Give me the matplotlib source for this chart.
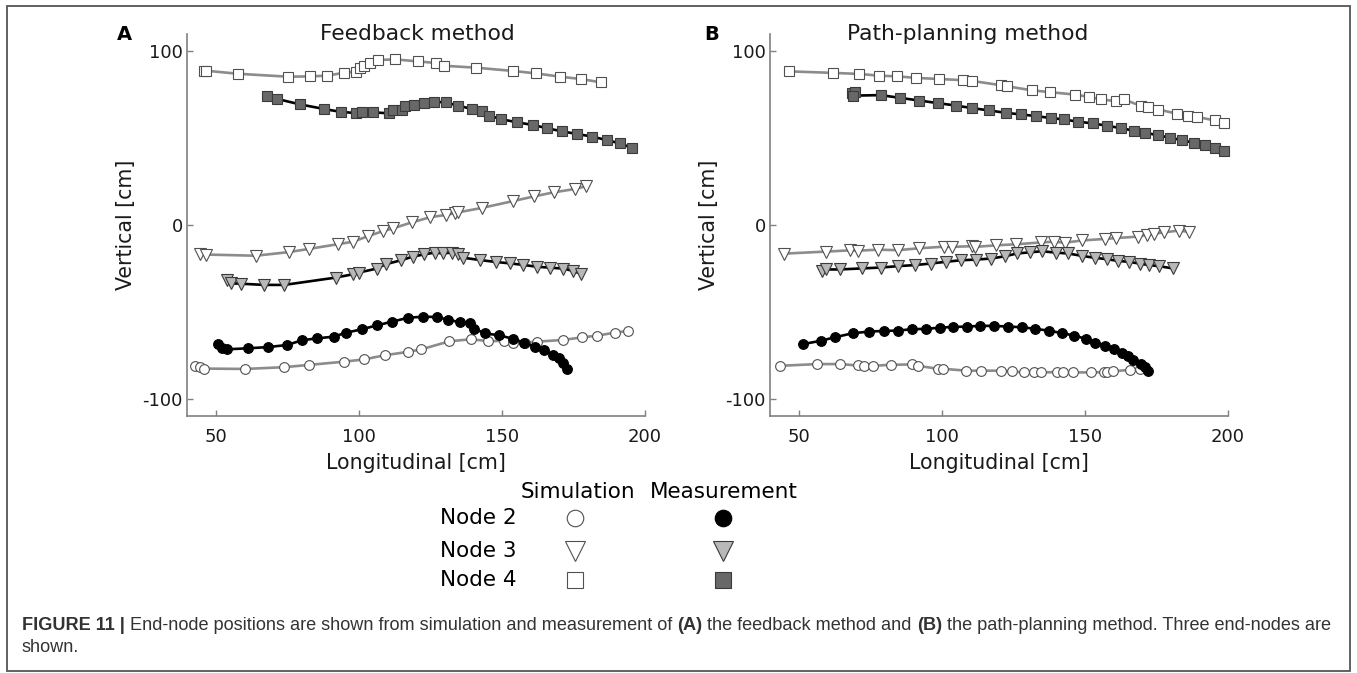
import numpy as np
import matplotlib
matplotlib.use('Agg')
import matplotlib.pyplot as plt
from matplotlib.patches import Rectangle

# ---- panel A : feedback method ----
a_n4_sim_x = [46.0, 46.5, 57.8, 75.4, 82.9, 88.9, 94.9, 98.9, 100.4, 101.9, 104.0, 106.8,
              112.5, 120.8, 127.0, 129.8, 141.0, 154.0, 162.0, 170.4, 177.5, 184.8]
a_n4_sim_y = [88.9, 88.9, 87.1, 85.4, 85.6, 86.0, 87.7, 88.3, 90.2, 91.7, 93.1, 95.0,
              95.4, 94.2, 93.3, 91.7, 90.6, 88.7, 87.3, 85.4, 84.1, 82.1]
a_n4_mea_x = [67.8, 71.5, 79.4, 87.9, 93.9, 98.9, 101.0, 105.1, 110.5, 111.9, 115.0, 116.0,
              119.4, 122.9, 126.4, 130.4, 134.8, 139.6, 142.9, 145.6, 149.6, 155.4, 160.9,
              165.9, 171.1, 176.3, 181.6, 186.6, 191.3, 195.6]
a_n4_mea_y = [74.5, 72.6, 69.5, 66.8, 65.1, 64.5, 65.3, 64.9, 64.3, 66.2, 66.4, 68.7,
              69.3, 70.2, 71.0, 70.6, 68.7, 66.8, 65.4, 63.0, 61.0, 59.1, 57.6,
              55.7, 53.9, 52.4, 50.9, 48.9, 47.0, 44.3]
a_n3_sim_x = [44.4, 46.5, 64.0, 75.6, 82.5, 92.9, 98.1, 103.1, 108.5, 111.9, 118.5, 125.0,
              130.4, 133.5, 134.8, 142.9, 154.0, 161.3, 168.1, 175.4, 179.4]
a_n3_sim_y = [-16.9, -17.0, -17.7, -15.6, -13.8, -11.0, -9.6, -6.5, -3.5, -2.0, 1.5, 4.5,
              5.8, 6.8, 7.3, 9.8, 13.8, 16.5, 18.8, 20.7, 22.3]
a_n3_mea_x = [54.1, 55.4, 58.8, 66.9, 74.0, 91.9, 97.9, 100.0, 106.3, 109.4, 114.8, 118.9,
              122.9, 126.5, 129.4, 132.5, 134.8, 136.3, 142.5, 147.9, 152.9, 157.5, 162.1,
              166.9, 171.5, 175.0, 177.5]
a_n3_mea_y = [-31.7, -33.6, -33.8, -34.5, -34.5, -30.3, -28.4, -27.4, -25.1, -22.6, -20.3, -18.2,
              -16.9, -15.9, -16.3, -15.9, -16.5, -18.8, -20.2, -21.3, -22.1, -23.0, -24.0,
              -24.6, -25.1, -26.5, -28.0]
a_n2_sim_x = [42.8, 44.5, 45.9, 60.4, 73.8, 82.5, 94.9, 101.9, 109.1, 117.1, 121.9, 131.6,
              139.1, 145.0, 150.6, 153.8, 158.1, 162.1, 171.4, 178.1, 183.4, 189.4, 194.1]
a_n2_sim_y = [-81.2, -81.6, -82.7, -82.9, -81.9, -80.6, -78.7, -77.4, -75.0, -73.1, -71.6, -67.0,
              -65.8, -66.8, -66.8, -68.1, -67.8, -67.2, -66.2, -64.7, -63.7, -62.0, -61.0]
a_n2_mea_x = [51.0, 52.3, 53.8, 61.4, 68.4, 75.0, 80.1, 85.3, 91.3, 95.6, 101.0, 106.3,
              111.6, 117.3, 122.6, 127.5, 131.3, 135.3, 139.0, 140.4, 144.0, 149.0, 153.8,
              157.8, 161.5, 164.8, 167.8, 169.8, 171.5, 172.8]
a_n2_mea_y = [-68.7, -70.6, -71.6, -71.0, -70.3, -69.1, -66.4, -65.3, -64.3, -62.0, -60.1, -57.8,
              -55.7, -53.4, -52.8, -53.0, -54.7, -55.9, -56.3, -59.7, -62.4, -63.5, -65.5,
              -67.8, -70.1, -72.2, -74.9, -76.8, -79.7, -83.1]

# ---- panel B : path-planning method ----
b_n4_sim_x = [46.5, 62.1, 71.2, 78.1, 84.5, 91.1, 98.9, 107.4, 110.5, 120.7, 122.7, 131.4,
              137.9, 146.6, 151.4, 155.7, 161.0, 163.7, 169.7, 172.2, 175.7, 182.2, 185.9,
              189.0, 195.5, 198.6]
b_n4_sim_y = [88.5, 87.6, 87.0, 86.0, 85.6, 84.7, 84.1, 83.4, 83.0, 80.5, 79.9, 77.6,
              76.5, 75.1, 73.8, 72.3, 71.3, 72.3, 68.5, 68.1, 66.5, 64.1, 62.7,
              62.3, 60.2, 58.9]
b_n4_mea_x = [68.5, 69.7, 69.0, 78.7, 85.5, 92.1, 98.6, 104.9, 110.7, 116.5, 122.3, 127.7,
              132.9, 138.2, 142.6, 147.6, 152.9, 157.6, 162.6, 167.0, 171.0, 175.7, 179.7,
              184.0, 188.0, 191.9, 195.5, 198.6]
b_n4_mea_y = [76.1, 76.5, 74.5, 74.8, 73.2, 71.7, 70.2, 68.8, 67.3, 66.0, 64.6, 63.7,
              62.7, 61.6, 60.8, 59.5, 58.5, 57.2, 55.8, 54.3, 53.2, 51.6, 50.3,
              48.8, 47.4, 45.9, 44.2, 42.6]
b_n3_sim_x = [44.8, 59.7, 68.1, 70.8, 77.8, 84.7, 92.1, 100.7, 103.6, 110.5, 111.7, 119.0,
              126.1, 134.8, 139.2, 142.9, 149.1, 157.2, 161.0, 168.5, 171.6, 174.1, 177.8,
              182.8, 186.5]
b_n3_sim_y = [-16.5, -15.3, -14.6, -14.8, -14.2, -14.5, -13.4, -12.5, -12.6, -12.2, -12.6, -11.7,
              -11.1, -10.0, -9.6, -10.2, -8.9, -8.0, -7.5, -6.7, -5.6, -5.0, -4.2,
              -3.2, -4.0]
b_n3_mea_x = [58.1, 59.4, 64.3, 72.1, 78.7, 84.7, 90.5, 96.1, 101.4, 106.7, 112.1, 117.3,
              122.1, 126.3, 131.0, 135.0, 139.8, 144.1, 149.1, 153.5, 157.9, 161.6, 165.3,
              169.1, 172.4, 175.9, 180.7]
b_n3_mea_y = [-26.6, -25.6, -25.6, -25.0, -24.5, -23.7, -23.1, -22.2, -21.2, -20.3, -19.9, -19.3,
              -18.0, -16.4, -15.7, -15.1, -15.9, -16.4, -17.8, -18.9, -19.7, -20.7, -21.2,
              -22.2, -23.1, -23.7, -25.0]
b_n2_sim_x = [43.5, 56.5, 64.6, 70.6, 72.8, 75.9, 82.2, 89.7, 91.8, 98.6, 100.5, 108.6,
              113.6, 120.7, 124.6, 128.6, 132.3, 134.5, 140.1, 142.3, 146.0, 152.0, 156.6,
              157.9, 159.7, 165.7, 169.1]
b_n2_sim_y = [-81.1, -80.1, -80.1, -80.9, -81.1, -81.1, -80.5, -80.3, -81.1, -82.8, -82.8, -83.9,
              -83.9, -83.9, -84.3, -84.9, -84.5, -84.9, -84.7, -84.9, -84.9, -84.9, -84.7,
              -84.5, -84.3, -83.4, -83.0]
b_n2_mea_x = [51.5, 57.7, 62.8, 69.0, 74.6, 79.7, 84.7, 89.7, 94.6, 99.5, 103.9, 108.9,
              113.3, 118.2, 123.2, 128.2, 132.5, 137.3, 142.0, 146.3, 150.4, 153.7, 157.2,
              160.1, 162.8, 165.1, 166.9, 169.5, 171.0, 172.0]
b_n2_mea_y = [-68.6, -66.7, -64.6, -62.3, -61.4, -61.0, -60.8, -60.0, -59.8, -59.1, -58.7, -58.5,
              -58.1, -58.1, -58.5, -58.9, -59.8, -60.8, -62.3, -63.7, -65.6, -67.7, -69.4,
              -71.5, -73.8, -75.3, -77.6, -79.9, -82.0, -84.3]

panel_titles = ['Feedback method', 'Path-planning method']
panel_letters = ['A', 'B']
node_names = ['Node 2', 'Node 3', 'Node 4']
x_ticks = [50, 100, 150, 200]
y_ticks = [-100, 0, 100]

# styles
sim_line = dict(color='#8c8c8c', lw=1.9)
mea_line = dict(color='black', lw=1.9)
sim_mk = [dict(marker='o', ms=7, mfc='white', mec='#505050', mew=0.8),
          dict(marker='v', ms=8, mfc='white', mec='#505050', mew=0.8),
          dict(marker='s', ms=6.5, mfc='white', mec='#505050', mew=0.8)]
mea_mk = [dict(marker='o', ms=7, mfc='black', mec='black', mew=0.8),
          dict(marker='v', ms=8, mfc='#b8b8b8', mec='#3a3a3a', mew=0.8),
          dict(marker='s', ms=6.5, mfc='#686868', mec='#3a3a3a', mew=0.8)]

W, H = 1357, 673
fig = plt.figure(figsize=(W / 100, H / 100), dpi=100)
plt.rcParams['font.family'] = 'DejaVu Sans'

panels = [
    [(a_n2_sim_x, a_n2_sim_y, a_n2_mea_x, a_n2_mea_y),
     (a_n3_sim_x, a_n3_sim_y, a_n3_mea_x, a_n3_mea_y),
     (a_n4_sim_x, a_n4_sim_y, a_n4_mea_x, a_n4_mea_y)],
    [(b_n2_sim_x, b_n2_sim_y, b_n2_mea_x, b_n2_mea_y),
     (b_n3_sim_x, b_n3_sim_y, b_n3_mea_x, b_n3_mea_y),
     (b_n4_sim_x, b_n4_sim_y, b_n4_mea_x, b_n4_mea_y)],
]
lefts = [187, 770]
letter_x = [124, 712]
title_x = [0.504, 0.432]
ax_top, ax_bot, ax_w = 34, 416, 458

for p in range(2):
    ax = fig.add_axes([lefts[p] / W, 1 - ax_bot / H, ax_w / W, (ax_bot - ax_top) / H])
    for k in range(3):
        sx, sy, mx, my = panels[p][k]
        ax.plot(sx, sy, **sim_line, **sim_mk[k], zorder=2, clip_on=False)
        ax.plot(mx, my, **mea_line, **mea_mk[k], zorder=3, clip_on=False)
    ax.set_xlim(40, 200)
    ax.set_ylim(-110, 110)
    ax.set_xticks(x_ticks)
    ax.set_yticks(y_ticks)
    ax.set_yticklabels(['-100', '0', '100'])
    for s in ['top', 'right']:
        ax.spines[s].set_visible(False)
    for s in ['left', 'bottom']:
        ax.spines[s].set_color('#808080')
        ax.spines[s].set_linewidth(1.2)
    ax.tick_params(direction='in', length=4, width=1, color='#808080',
                   labelsize=13, labelcolor='#1a1a1a')
    ax.tick_params(axis='x', pad=9)
    ax.tick_params(axis='y', pad=3)
    ax.set_xlabel('Longitudinal [cm]', fontsize=14.8, color='#1a1a1a', labelpad=5)
    ax.set_ylabel('Vertical [cm]', fontsize=14.8, color='#1a1a1a', labelpad=5)
    ax.text(title_x[p], 1.0, panel_titles[p], transform=ax.transAxes,
            ha='center', va='center', fontsize=15.7, color='#1a1a1a')
    ax.text((letter_x[p] - lefts[p]) / ax_w, 1.0, panel_letters[p], transform=ax.transAxes,
            ha='center', va='center', fontsize=14, fontweight='bold')

# overlay in pixel coordinates for legend, caption and frame
lax = fig.add_axes([0, 0, 1, 1], zorder=-1)
lax.set_xlim(0, W)
lax.set_ylim(H, 0)
lax.axis('off')
lax.add_patch(Rectangle((7, 6), 1343, 665, fill=False, ec='#555555', lw=1.3))

lax.text(578, 492, 'Simulation', ha='center', va='center', fontsize=15.5)
lax.text(724, 492, 'Measurement', ha='center', va='center', fontsize=15.5)
rows_y = [518, 551, 580]
big = [1.7, 1.75, 1.8]
for k in range(3):
    lax.text(517, rows_y[k], node_names[k], ha='right', va='center', fontsize=15.5)
    s = dict(sim_mk[k]); s['ms'] = s['ms'] * big[k]
    m = dict(mea_mk[k]); m['ms'] = m['ms'] * big[k]
    lax.plot([575], [rows_y[k]], ls='none', **s)
    lax.plot([723], [rows_y[k]], ls='none', **m)

cap_font = dict(family=['Liberation Sans', 'DejaVu Sans'], fontsize=13.1, color='#333333')
pieces = [('FIGURE 11 |', 'bold'),
          (' End-node positions are shown from simulation and measurement of ', 'normal'),
          ('(A)', 'bold'), (' the feedback method and ', 'normal'),
          ('(B)', 'bold'), (' the path-planning method. Three end-nodes are', 'normal')]
prev = lax.text(22, 634, pieces[0][0], ha='left', va='bottom', fontweight=pieces[0][1], **cap_font)
for s, w in pieces[1:]:
    prev = lax.annotate(s, xy=(1, 0), xycoords=prev, ha='left', va='bottom',
                        fontweight=w, annotation_clip=False, **cap_font)
lax.text(22, 656, 'shown.', ha='left', va='bottom', **cap_font)

fig.savefig('out.png', dpi=100)
